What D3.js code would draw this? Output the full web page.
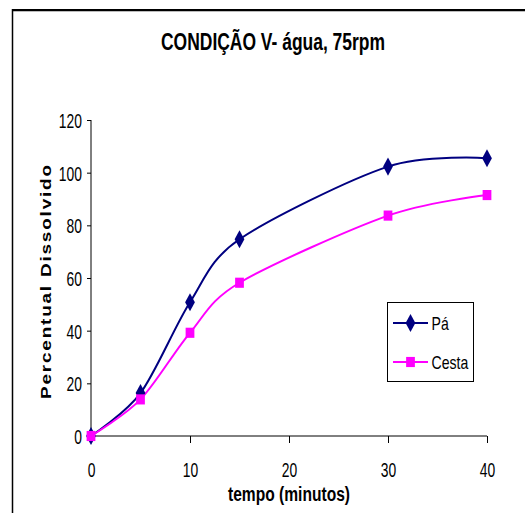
<!DOCTYPE html>
<html><head><meta charset="utf-8">
<script src="https://cdn.jsdelivr.net/npm/d3@7"></script>
<style>html,body{margin:0;padding:0;background:#fff;}svg{display:block;}</style>
</head><body>
<svg id="c" width="525" height="513"></svg>
<script>
const title = "CONDIÇÃO V- água, 75rpm";
const xLabel = "tempo (minutos)";
const yLabel = "Percentual Dissolvido";
const times = [0, 5, 10, 15, 30, 40];
const paValues = [0, 16.3, 50.8, 74.7, 102.3, 105.5];
const cestaValues = [0, 13.9, 39.2, 58.2, 83.7, 91.5];
const seriesNames = ["Pá", "Cesta"];
const xTicks = [0, 10, 20, 30, 40];
const yTicks = [0, 20, 40, 60, 80, 100, 120];

const font = "'Liberation Sans',Arial,sans-serif";
const svg = d3.select("#c");

function condense(sel, f){
  sel.each(function(){
    const len = this.getComputedTextLength();
    d3.select(this).attr("textLength", len*f).attr("lengthAdjust","spacingAndGlyphs");
  });
}

// outer frame (top and left visible)
svg.append("line").attr("x1",12.5).attr("x2",525).attr("y1",10).attr("y2",10).attr("stroke","#000").attr("stroke-width",2);
svg.append("line").attr("x1",13).attr("x2",525).attr("y1",11.5).attr("y2",11.5).attr("stroke","#bbb").attr("stroke-width",1);
svg.append("line").attr("x1",12.5).attr("x2",12.5).attr("y1",9).attr("y2",513).attr("stroke","#000").attr("stroke-width",1.5);

const x = d3.scaleLinear().domain([0,40]).range([91,487]);
const y = d3.scaleLinear().domain([0,120]).range([436,120]);

svg.append("text").attr("x",273).attr("y",50).attr("text-anchor","middle")
  .attr("font-family",font).attr("font-weight","bold").attr("font-size",24)
  .attr("textLength",224).attr("lengthAdjust","spacingAndGlyphs").text(title);

const gx = svg.append("g").attr("transform","translate(0,436)")
  .call(d3.axisBottom(x).tickValues(xTicks).tickSize(7).tickPadding(0).tickFormat(d3.format("d")));
const gy = svg.append("g").attr("transform","translate(91,0)")
  .call(d3.axisLeft(y).tickValues(yTicks).tickSize(4).tickPadding(5).tickFormat(d3.format("d")));
[gx,gy].forEach(g=>{
  g.select(".domain").attr("stroke","#000").attr("stroke-width",1);
  g.selectAll(".tick line").attr("stroke","#000");
  g.selectAll(".tick text").attr("font-family",font).attr("font-size",21).attr("fill","#000");
  condense(g.selectAll(".tick text"), 0.66);
});
gx.selectAll(".tick text").attr("dy",null).attr("y",41);
gy.selectAll(".tick text").attr("dy",null).attr("y",7.5);
gx.select(".domain").attr("d","M91,0H487");
gy.select(".domain").attr("d","M0,120V436");

svg.append("text").attr("x",289).attr("y",501).attr("text-anchor","middle")
  .attr("font-family",font).attr("font-weight","bold").attr("font-size",20)
  .attr("textLength",122).attr("lengthAdjust","spacingAndGlyphs").text(xLabel);

svg.append("g").attr("transform","translate(51,282) rotate(-90) scale(1,0.8)")
  .append("text").attr("x",0).attr("y",0).attr("text-anchor","middle")
  .attr("font-family",font).attr("font-weight","bold").attr("font-size",19)
  .attr("textLength",234).attr("lengthAdjust","spacing").text(yLabel);

const colors = ["#000080","#FF00FF"];
const data = [paValues, cestaValues];
const line = d3.line().x((d,i)=>x(times[i])).y(d=>y(d)).curve(d3.curveCardinal.tension(0.1));
const diamondPath = d3.symbol().type(d3.symbolDiamond).size(75)();
const squarePath = d3.symbol().type(d3.symbolSquare).size(85)();
const syms = [diamondPath, squarePath];
const symScale = ["scale(1.05,1.12)","scale(0.95,1.1)"];

data.forEach((vals,k)=>{
  svg.append("path").datum(vals).attr("d",line).attr("fill","none").attr("stroke",colors[k]).attr("stroke-width",2);
});
data.forEach((vals,k)=>{
  svg.append("g").selectAll("path").data(vals).join("path")
    .attr("transform",(d,i)=>`translate(${x(times[i])},${y(d)}) ${symScale[k]}`)
    .attr("d",syms[k]).attr("fill",colors[k]);
});

// legend
const lg = svg.append("g");
lg.append("rect").attr("x",387.5).attr("y",302.5).attr("width",86).attr("height",79)
  .attr("fill","#fff").attr("stroke","#000").attr("stroke-width",1);
seriesNames.forEach((n,k)=>{
  const cy = k===0 ? 323 : 362;
  lg.append("line").attr("x1",393).attr("x2",428).attr("y1",cy).attr("y2",cy).attr("stroke",colors[k]).attr("stroke-width",2);
  lg.append("path").attr("transform",`translate(410.5,${cy}) ${symScale[k]}`).attr("d",syms[k]).attr("fill",colors[k]);
  const t = lg.append("text").attr("x",431.5).attr("y",cy+7).attr("font-family",font).attr("font-size",19).text(n);
  condense(t, 0.74);
});
</script>
</body></html>
